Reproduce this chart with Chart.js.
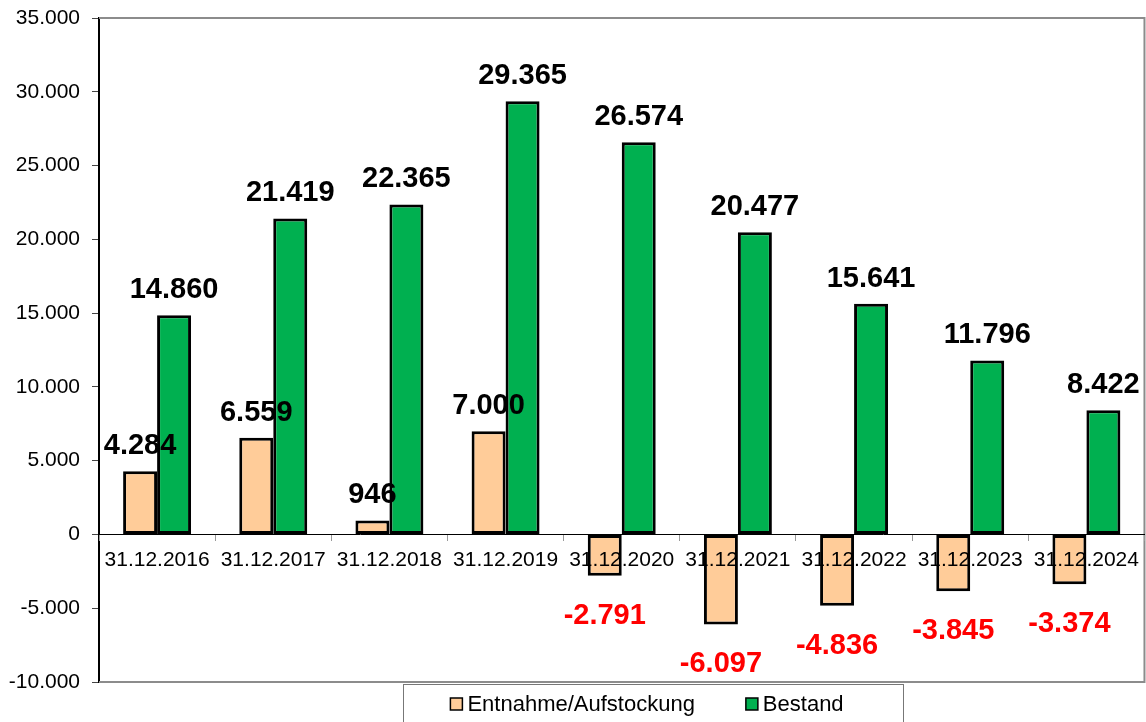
<!DOCTYPE html>
<html>
<head>
<meta charset="utf-8">
<script src="https://cdn.jsdelivr.net/npm/chart.js@4"></script>
<style>
  body { margin: 0; background: #fff; }
  #chart-container { width: 1146px; height: 722px; }
</style>
</head>
<body>
<div id="chart-container"><canvas id="bestandChart"></canvas></div>
<script>
const categories = ['31.12.2016', '31.12.2017', '31.12.2018', '31.12.2019', '31.12.2020', '31.12.2021', '31.12.2022', '31.12.2023', '31.12.2024'];
const entnahmeValues = [4284, 6559, 946, 7000, -2791, -6097, -4836, -3845, -3374];
const bestandValues = [14860, 21419, 22365, 29365, 26574, 20477, 15641, 11796, 8422];
const seriesNames = ['Entnahme/Aufstockung', 'Bestand'];

const fontFamily = '"Liberation Sans", Arial, sans-serif';

// 12345 -> "12.345"
function formatNumber(v) {
  const s = Math.abs(v).toString().replace(/\B(?=(\d{3})+(?!\d))/g, '.');
  return (v < 0 ? '-' : '') + s;
}

// gray frame round the plot area (top, right, bottom)
const framePlugin = {
  id: 'frame',
  beforeDatasetsDraw(chart) {
    const { ctx, chartArea: a } = chart;
    ctx.save();
    ctx.strokeStyle = '#8c8c8c';
    ctx.lineWidth = 2;
    ctx.beginPath();
    ctx.moveTo(a.left, a.top);
    ctx.lineTo(a.right, a.top);
    ctx.lineTo(a.right, a.bottom);
    ctx.lineTo(a.left, a.bottom);
    ctx.stroke();
    ctx.restore();
  }
};

// value labels above / below the bars
const valueLabelPlugin = {
  id: 'valueLabels',
  afterDatasetsDraw(chart) {
    const ctx = chart.ctx;
    ctx.save();
    ctx.font = 'bold 29px ' + fontFamily;
    ctx.textAlign = 'center';
    ctx.textBaseline = 'alphabetic';
    chart.data.datasets.forEach((ds, i) => {
      const meta = chart.getDatasetMeta(i);
      meta.data.forEach((bar, j) => {
        const v = ds.data[j];
        if (v >= 0) {
          ctx.fillStyle = '#000';
          ctx.fillText(formatNumber(v), bar.x, bar.y - 17);
        } else {
          ctx.fillStyle = '#ff0000';
          ctx.fillText(formatNumber(v), bar.x, bar.y + 48);
        }
      });
    });
    ctx.restore();
  }
};

// legend drawn in a box below the plot
const boxLegendPlugin = {
  id: 'boxLegend',
  afterDraw(chart) {
    const ctx = chart.ctx;
    const top = chart.chartArea.bottom + 2;
    const centerX = 653;
    ctx.save();
    ctx.strokeStyle = '#777';
    ctx.lineWidth = 1;
    ctx.strokeRect(centerX - 250 + 0.5, top + 0.5, 500, 60);

    ctx.font = '22px ' + fontFamily;
    ctx.textBaseline = 'alphabetic';
    const sq = 12, gapText = 5, gapItem = 51;
    const items = chart.data.datasets.map(ds => ({
      text: ds.label,
      color: ds.backgroundColor,
      w: sq + gapText + ctx.measureText(ds.label).width
    }));
    const total = items.reduce((s, it) => s + it.w, 0) + gapItem * (items.length - 1);
    let x = centerX - 6 - total / 2;
    items.forEach(it => {
      ctx.fillStyle = it.color;
      ctx.fillRect(x, top + 14, sq, sq);
      ctx.strokeStyle = '#000';
      ctx.lineWidth = 1.5;
      ctx.strokeRect(x, top + 14, sq, sq);
      ctx.fillStyle = '#000';
      ctx.fillText(it.text, x + sq + gapText, top + 27);
      x += it.w + gapItem;
    });
    ctx.restore();
  }
};

const ctx = document.getElementById('bestandChart');
const chart = new Chart(ctx, {
  type: 'bar',
  data: {
    labels: categories,
    datasets: [
      {
        label: seriesNames[0],
        data: entnahmeValues,
        backgroundColor: '#ffcc99',
        borderColor: '#000',
        borderWidth: 3,
        borderSkipped: false
      },
      {
        label: seriesNames[1],
        data: bestandValues,
        backgroundColor: '#00b050',
        borderColor: '#000',
        borderWidth: 3,
        borderSkipped: false
      }
    ]
  },
  options: {
    responsive: true,
    maintainAspectRatio: false,
    animation: false,
    layout: { padding: { top: 18, right: 1, bottom: 40, left: 0 } },
    plugins: {
      legend: { display: false },
      tooltip: { enabled: false }
    },
    datasets: {
      bar: { categoryPercentage: 0.585, barPercentage: 1 }
    },
    scales: {
      x: {
        position: { y: 0 },
        afterFit(scale) { scale.height = 0; },
        grid: {
          offset: true,
          drawOnChartArea: false,
          tickLength: 6,
          tickColor: '#999',
          z: 1
        },
        border: { color: '#000', width: 1, z: 1 },
        ticks: {
          z: 1,
          color: '#000',
          padding: 7,
          maxRotation: 0,
          autoSkip: false,
          font: { family: fontFamily, size: 21 }
        }
      },
      y: {
        min: -10000,
        max: 35000,
        afterFit(scale) {
          scale.width = 99;
          scale.paddingTop = 0;
          scale.paddingBottom = 0;
        },
        grid: {
          drawOnChartArea: false,
          tickLength: 7,
          tickColor: '#444'
        },
        border: { color: '#000', width: 2 },
        ticks: {
          stepSize: 5000,
          color: '#000',
          padding: 12,
          font: { family: fontFamily, size: 21 },
          callback: value => formatNumber(value)
        }
      }
    }
  },
  plugins: [framePlugin, valueLabelPlugin, boxLegendPlugin]
});
</script>
</body>
</html>
